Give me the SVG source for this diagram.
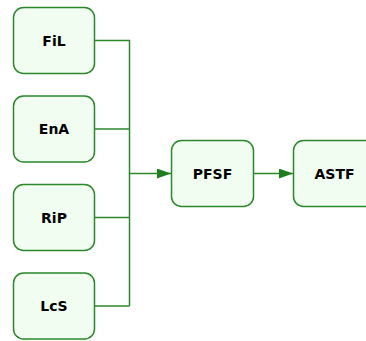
<svg xmlns="http://www.w3.org/2000/svg" width="366" height="341" viewBox="0 0 366 341">
<style>
.box{fill:#f0fdf0;stroke:#2b882b;stroke-width:1.5}
.lbl{font-family:"DejaVu Sans",Verdana,sans-serif;font-weight:bold;font-size:14px;fill:#000;text-anchor:middle}
.ln{fill:none;stroke:#2b882b;stroke-width:1.5}
</style>
<defs>
<marker id="ah" markerWidth="14" markerHeight="10" refX="14" refY="5" orient="auto" markerUnits="userSpaceOnUse">
<path d="M0,0 L14,5 L0,10 Z" fill="#1f7f1f"/>
</marker>
</defs>
<g id="connectors">
<path class="ln" d="M94.5,40.5 H129.5 V306 M94.5,129 H129.5 M94.5,217.5 H129.5 M94.5,306 H129.5"/>
<path class="ln" d="M129.5,173.5 H171" marker-end="url(#ah)"/>
<path class="ln" d="M253.5,173.5 H293" marker-end="url(#ah)"/>
</g>
<g id="FiL"><rect class="box" x="13.5" y="7.5" width="81" height="66" rx="10"/><text class="lbl" x="54" y="45.5">FiL</text></g>
<g id="EnA"><rect class="box" x="13.5" y="96" width="81" height="66" rx="10"/><text class="lbl" x="54" y="134">EnA</text></g>
<g id="RiP"><rect class="box" x="13.5" y="184.5" width="81" height="66" rx="10"/><text class="lbl" x="54" y="222.5">RiP</text></g>
<g id="LcS"><rect class="box" x="13.5" y="273" width="81" height="66" rx="10"/><text class="lbl" x="54" y="311">LcS</text></g>
<g id="PFSF"><rect class="box" x="171.5" y="140.5" width="82" height="66" rx="10"/><text class="lbl" x="212.5" y="178.5">PFSF</text></g>
<g id="ASTF"><rect class="box" x="293.5" y="140.5" width="82" height="66" rx="10"/><text class="lbl" x="334.5" y="178.5">ASTF</text></g>
</svg>
